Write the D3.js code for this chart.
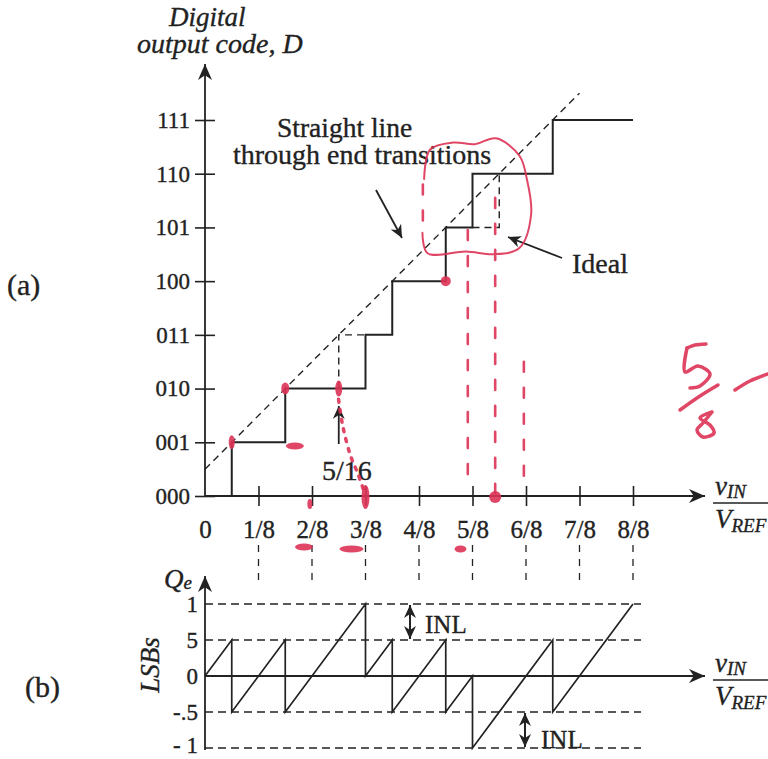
<!DOCTYPE html>
<meta charset="utf-8">
<style>
body { margin: 0; background: #fff; }
text { font-family: "Liberation Serif", "Times New Roman", serif; fill: #222; stroke: #222; stroke-width: 0.35px; }
.it { font-style: italic; }
</style>
<body>
<div id="chart"></div>
</body>
<script src="https://cdn.jsdelivr.net/npm/d3@7"></script>
<script>

// code transitions of the (non-ideal) 3-bit ADC, in units of VREF
var transitions = [1/16, 3/16, 6/16, 7/16, 9/16, 10/16, 13/16];
var codeLabels = ["000", "001", "010", "011", "100", "101", "110", "111"];
var xTicks = [0, 1/8, 2/8, 3/8, 4/8, 5/8, 6/8, 7/8, 1];
var xTickLabels = ["0", "1/8", "2/8", "3/8", "4/8", "5/8", "6/8", "7/8", "8/8"];
// straight line through end transitions (vin/VREF, code)
var endLine = [[0, 0.5], [0.875, 7.5]];
// ideal transitions drawn dashed where they differ
var idealSteps = [
  [[5/16, 2], [5/16, 3], [6/16, 3]],
  [[10/16, 5], [11/16, 5], [11/16, 6]]
];
// quantization error, LSBs
var qe = [[0, 0], [1/16, 0.5], [1/16, -0.5], [3/16, 0.5], [3/16, -0.5], [6/16, 1], [6/16, 0],
  [7/16, 0.5], [7/16, -0.5], [9/16, 0.5], [9/16, -0.5], [10/16, 0], [10/16, -1],
  [13/16, 0.5], [13/16, -0.5], [1, 1]];
var qeLevels = [1, 0.5, -0.5, -1];
var qeTicks = [1, 0.5, 0, -0.5, -1];
var qeTickLabels = ["1", "5", "0", "-.5", "- 1"];

var W = 768, H = 759, ink = "#222", red = "#dd3355";

var svg = d3.select("#chart").append("svg")
    .attr("width", W)
    .attr("height", H);
svg.append("rect").attr("width", W).attr("height", H).attr("fill", "#fff");

var defs = svg.append("defs");
function marker(id, len, half) {
  defs.append("marker")
      .attr("id", id)
      .attr("markerUnits", "userSpaceOnUse")
      .attr("viewBox", (-len) + " " + (-half) + " " + (len + 1) + " " + (2 * half))
      .attr("refX", 0).attr("refY", 0)
      .attr("markerWidth", len + 1).attr("markerHeight", 2 * half)
      .attr("orient", "auto-start-reverse")
    .append("path")
      .attr("d", "M0,0L" + (-len) + "," + (-half) + "L" + (-len * 0.7) + ",0L" + (-len) + "," + half + "Z")
      .attr("fill", ink);
}
marker("ax", 16, 7);
marker("ar", 13, 6);

var x = d3.scaleLinear().domain([0, 1]).range([205, 633]);
var yD = d3.scaleLinear().domain([0, 7]).range([496, 120]);
var yQ = d3.scaleLinear().domain([-1, 1]).range([748, 604]);

var lineD = d3.line().x(function(d) { return x(d[0]); }).y(function(d) { return yD(d[1]); });
var lineQ = d3.line().x(function(d) { return x(d[0]); }).y(function(d) { return yQ(d[1]); });

// ---------- (a) transfer curve ----------
var gy = svg.append("g")
    .attr("transform", "translate(" + x(0) + ",0)")
    .call(d3.axisLeft(yD).tickValues(d3.range(8)).tickFormat(function(i) { return codeLabels[i]; })
      .tickSize(10).tickPadding(5));
gy.select(".domain").remove();
gy.selectAll(".tick line").attr("x1", 10).attr("stroke", ink).attr("stroke-width", 1.6);
gy.selectAll(".tick text").attr("font-size", 23).attr("font-family", "Liberation Serif").attr("fill", ink);

var gx = svg.append("g")
    .attr("transform", "translate(0," + yD(0) + ")")
    .call(d3.axisBottom(x).tickValues(xTicks).tickFormat(function(d, i) { return xTickLabels[i]; })
      .tickSize(10).tickPadding(14));
gx.select(".domain").remove();
gx.selectAll(".tick line").attr("y1", -10).attr("stroke", ink).attr("stroke-width", 1.6)
    .filter(function(d) { return d === 0; }).remove();
gx.selectAll(".tick text").attr("font-size", 25).attr("font-family", "Liberation Serif").attr("fill", ink);

svg.append("line").attr("x1", x(0)).attr("y1", yD(0)).attr("x2", x(0)).attr("y2", 64)
    .attr("stroke", ink).attr("stroke-width", 1.8).attr("marker-end", "url(#ax)");
svg.append("line").attr("x1", x(0)).attr("y1", yD(0)).attr("x2", 705).attr("y2", yD(0))
    .attr("stroke", ink).attr("stroke-width", 1.8).attr("marker-end", "url(#ax)");

var stairs = [[0, 0]];
transitions.forEach(function(t, i) { stairs.push([t, i]); stairs.push([t, i + 1]); });
stairs.push([1, 7]);
svg.append("path").attr("d", lineD(stairs))
    .attr("fill", "none").attr("stroke", ink).attr("stroke-width", 2);

svg.append("path").attr("d", lineD(endLine))
    .attr("fill", "none").attr("stroke", ink).attr("stroke-width", 1.4).attr("stroke-dasharray", "7,5");

idealSteps.forEach(function(s) {
  svg.append("path").attr("d", lineD(s))
      .attr("fill", "none").attr("stroke", ink).attr("stroke-width", 1.4).attr("stroke-dasharray", "7,5");
});

// connectors between (a) and (b)
xTicks.slice(1).forEach(function(v) {
  svg.append("line").attr("x1", x(v)).attr("x2", x(v)).attr("y1", 545).attr("y2", 582)
      .attr("stroke", ink).attr("stroke-width", 1.3).attr("stroke-dasharray", "7,7");
});

// titles and notes for (a)
svg.append("text").attr("class", "it").attr("x", 169).attr("y", 26).attr("font-size", 27).text("Digital");
svg.append("text").attr("class", "it").attr("x", 137).attr("y", 53).attr("font-size", 28).text("output code, D");
svg.append("text").attr("x", 7).attr("y", 295).attr("font-size", 30).text("(a)");
svg.append("text").attr("x", 277).attr("y", 137).attr("font-size", 27.5).text("Straight line");
svg.append("text").attr("x", 233).attr("y", 164).attr("font-size", 28).text("through end transitions");
svg.append("text").attr("x", 572).attr("y", 273).attr("font-size", 28).text("Ideal");
svg.append("text").attr("x", 322).attr("y", 480).attr("font-size", 28).text("5/16");

function arrow(x1, y1, x2, y2) {
  svg.append("line").attr("x1", x1).attr("y1", y1).attr("x2", x2).attr("y2", y2)
      .attr("stroke", ink).attr("stroke-width", 1.8).attr("marker-end", "url(#ar)");
}
arrow(376, 190, 402, 238);
arrow(562, 258, 508, 237);
arrow(x(5/16), 444, x(5/16), 406);

function ratio(xp, yTop) {
  var t = svg.append("text").attr("class", "it").attr("x", xp).attr("y", yTop).attr("font-size", 27);
  t.append("tspan").text("v");
  t.append("tspan").attr("font-size", 19).attr("dy", 3).text("IN");
  svg.append("line").attr("x1", xp - 2).attr("x2", W).attr("y1", yTop + 8).attr("y2", yTop + 8)
      .attr("stroke", ink).attr("stroke-width", 1.5);
  var b = svg.append("text").attr("class", "it").attr("x", xp).attr("y", yTop + 33).attr("font-size", 27);
  b.append("tspan").text("V");
  b.append("tspan").attr("font-size", 19).attr("dy", 4).text("REF");
}
ratio(715, 495);
ratio(715, 672);

// ---------- (b) quantization error ----------
var gq = svg.append("g")
    .attr("transform", "translate(" + x(0) + ",0)")
    .call(d3.axisLeft(yQ).tickValues(qeTicks).tickFormat(function(d, i) { return qeTickLabels[i]; })
      .tickSize(0).tickPadding(7));
gq.select(".domain").remove();
gq.selectAll(".tick text").attr("font-size", 23).attr("font-family", "Liberation Serif").attr("fill", ink)
    .attr("dy", function(d) { return d === -1 ? "0.2em" : "0.32em"; });

qeLevels.forEach(function(v) {
  svg.append("line").attr("x1", x(0)).attr("x2", x(1) + 8).attr("y1", yQ(v)).attr("y2", yQ(v))
      .attr("stroke", ink).attr("stroke-width", 1.3).attr("stroke-dasharray", "8,5");
});

svg.append("line").attr("x1", x(0)).attr("y1", yQ(-1) + 2).attr("x2", x(0)).attr("y2", 576)
    .attr("stroke", ink).attr("stroke-width", 1.8).attr("marker-end", "url(#ax)");
svg.append("line").attr("x1", x(0)).attr("y1", yQ(0)).attr("x2", 705).attr("y2", yQ(0))
    .attr("stroke", ink).attr("stroke-width", 1.8).attr("marker-end", "url(#ax)");

svg.append("path").attr("d", lineQ(qe))
    .attr("fill", "none").attr("stroke", ink).attr("stroke-width", 1.7);

var qt = svg.append("text").attr("class", "it").attr("x", 164).attr("y", 588).attr("font-size", 27);
qt.append("tspan").text("Q");
qt.append("tspan").attr("font-size", 19).attr("dy", 1).text("e");
svg.append("text").attr("class", "it").attr("font-size", 27).attr("text-anchor", "middle")
    .attr("transform", "translate(159,665) rotate(-90)").text("LSBs");
svg.append("text").attr("x", 25).attr("y", 697).attr("font-size", 30).text("(b)");

function inl(xp, v1, v2, tx, ty) {
  svg.append("line").attr("x1", xp).attr("x2", xp).attr("y1", yQ(v1) + 1).attr("y2", yQ(v2) - 1)
      .attr("stroke", ink).attr("stroke-width", 2)
      .attr("marker-start", "url(#ar)").attr("marker-end", "url(#ar)");
  svg.append("text").attr("x", tx).attr("y", ty).attr("font-size", 25).text("INL");
}
inl(410, 1, 0.5, 425, 633);
inl(525, -0.5, -1, 541, 748);

// ---------- red pen marks on the scan ----------
var pen = svg.append("g").attr("fill", "none").attr("stroke", red)
    .attr("stroke-linecap", "round").attr("stroke-linejoin", "round").attr("opacity", 0.9);
var curve = d3.line().curve(d3.curveCatmullRom)
    .x(function(d) { return x(d[0]); }).y(function(d) { return yD(d[1]); });

var ring = [[0.512, 5.9], [0.526, 6.45], [0.58, 6.58], [0.63, 6.55], [0.68, 6.66], [0.735, 6.33],
  [0.752, 5.9], [0.762, 5.25], [0.735, 4.62], [0.675, 4.5], [0.61, 4.55], [0.52, 4.52], [0.508, 4.9]];
pen.append("path").attr("d", curve(ring)).attr("stroke-width", 2);

var dotted = [[0.614, 4.95, 0.3], [0.678, 5.55, 0.05], [0.745, 2.5, 0.15], [0.509, 5.8, 4.9]];
dotted.forEach(function(d) {
  pen.append("line").attr("x1", x(d[0])).attr("x2", x(d[0])).attr("y1", yD(d[1])).attr("y2", yD(d[2]))
      .attr("stroke-width", 2.6).attr("stroke-dasharray", "10,16");
});
pen.append("path").attr("d", curve([[0.312, 1.8], [0.322, 1.3], [0.34, 0.75], [0.358, 0.4], [0.373, 0.05]]))
    .attr("stroke-width", 3.5).attr("stroke-dasharray", "3,7");

var blots = [[1/16, 1, 3, 7], [3/16, 2, 4, 6], [5/16, 2, 3.5, 8], [9/16, 4, 5, 5],
  [3/8, -0.02, 4, 12], [0.678, -0.02, 6, 6], [0.21, 0.93, 9, 3.5], [0.245, -0.15, 2.5, 5]];
var gb = svg.append("g").attr("fill", red).attr("opacity", 0.9);
blots.forEach(function(b) {
  gb.append("ellipse").attr("cx", x(b[0])).attr("cy", yD(b[1])).attr("rx", b[2]).attr("ry", b[3]);
});
[[x(2/8) - 8, 547, 9], [x(3/8) - 14, 549, 12], [x(5/8) - 12, 549, 6]].forEach(function(s) {
  gb.append("ellipse").attr("cx", s[0]).attr("cy", s[1]).attr("rx", s[2]).attr("ry", 3.5);
});

// handwritten "5/8 -"
var hand = d3.line().curve(d3.curveCatmullRom);
pen.append("path").attr("stroke-width", 3.5).attr("d", hand([[706, 344], [695, 345], [687, 348]]));
pen.append("path").attr("stroke-width", 3.5).attr("d", hand([[687, 348], [685, 372], [698, 366], [710, 374], [700, 386], [690, 388]]));
pen.append("path").attr("stroke-width", 3.5).attr("d", hand([[680, 410], [700, 396], [718, 385]]));
pen.append("path").attr("stroke-width", 3.5).attr("d", hand([[712, 412], [700, 418], [710, 425], [714, 433], [703, 437], [697, 430], [703, 423], [712, 412]]));
pen.append("path").attr("stroke-width", 3.5).attr("d", hand([[735, 390], [750, 381], [768, 374]]));

</script>
